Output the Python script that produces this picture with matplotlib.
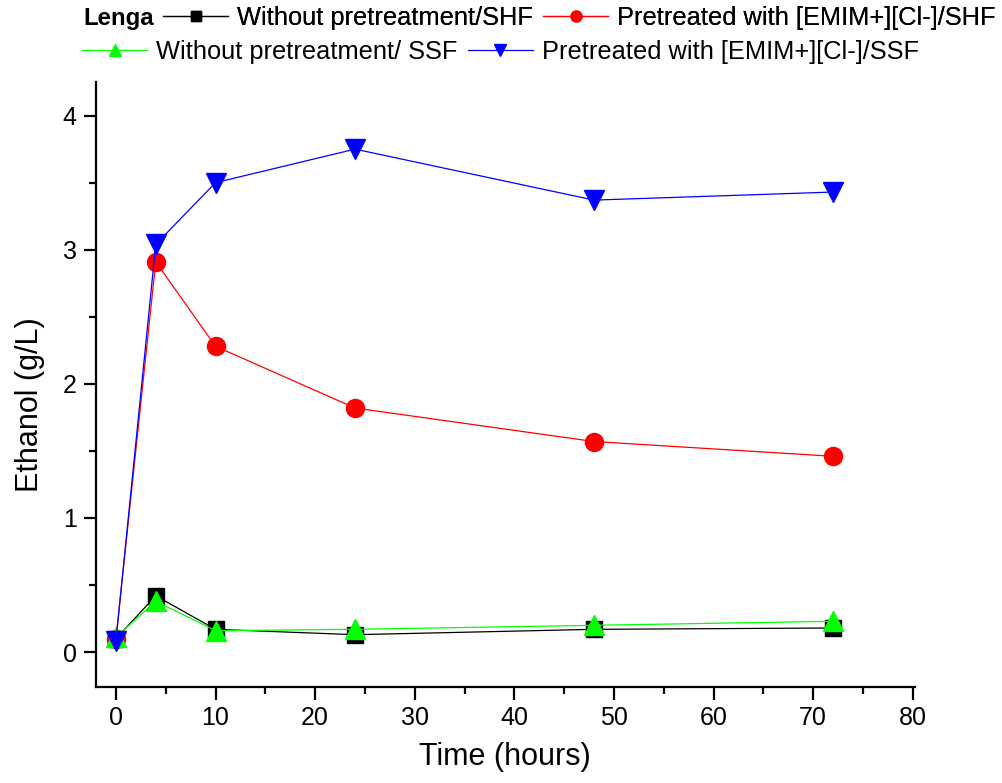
import matplotlib
matplotlib.use("Agg")
import matplotlib.pyplot as plt
from matplotlib.ticker import MultipleLocator

plt.rcParams['font.family'] = ['Liberation Sans', 'DejaVu Sans']

# hours
time_h = [0, 4, 10, 24, 48, 72]

# ethanol (g/L)
shf_raw = [0.10, 0.42, 0.17, 0.13, 0.17, 0.18]
shf_emim = [0.10, 2.91, 2.28, 1.82, 1.57, 1.46]
ssf_raw = [0.11, 0.38, 0.16, 0.17, 0.20, 0.23]
ssf_emim = [0.08, 3.04, 3.50, 3.75, 3.37, 3.43]

labels = ["Without pretreatment/SHF", "Pretreated with [EMIM+][Cl-]/SHF",
          "Without pretreatment/ SSF", "Pretreated with [EMIM+][Cl-]/SSF"]

fig = plt.figure(figsize=(10.03, 7.83), dpi=100)
ax = fig.add_axes([0.0957, 0.1226, 0.8163, 0.7726])

l1, = ax.plot(time_h, shf_raw, color="black", marker="s", ms=11, lw=0.9)
l2, = ax.plot(time_h, shf_emim, color="red", marker="o", ms=13, lw=0.9)
l3, = ax.plot(time_h, ssf_raw, color="#00ff00", marker="^", ms=15, lw=0.9)
l4, = ax.plot(time_h, ssf_emim, color="blue", marker="v", ms=15, lw=0.9)

ax.set_xlim(-2, 80.2)
ax.set_ylim(-0.26, 4.25)
ax.xaxis.set_major_locator(MultipleLocator(10))
ax.xaxis.set_minor_locator(MultipleLocator(5))
ax.yaxis.set_major_locator(MultipleLocator(1))
ax.yaxis.set_minor_locator(MultipleLocator(0.5))
ax.spines["top"].set_visible(False)
ax.spines["right"].set_visible(False)
for s in ("left", "bottom"):
    ax.spines[s].set_linewidth(1.6)
ax.tick_params(which="major", direction="out", length=9, width=1.6, labelsize=18, pad=5)
ax.tick_params(which="minor", direction="out", length=5, width=1.6)

ax.set_xlabel("Time (hours)", fontsize=22, labelpad=8)
ax.set_ylabel("Ethanol (g/L)", fontsize=22, va="center")
ax.yaxis.set_label_coords(-0.081, 0.466)

fig.text(0.083, 0.977, "Lenga", fontsize=17.3, fontweight="bold", va="center")
leg_kw = dict(ncol=2, loc="center left", frameon=False, fontsize=18.3,
              handlelength=2.56, handletextpad=0.35, columnspacing=0.4,
              borderpad=0, borderaxespad=0, markerscale=0.6)
leg1 = fig.legend([l1, l2], labels[:2], bbox_to_anchor=(0.1625, 0.977), **leg_kw)
leg2 = fig.legend([l3, l4], labels[2:], bbox_to_anchor=(0.082, 0.934), **leg_kw)
fig.add_artist(leg1)

fig.savefig("out.png", dpi=100)
